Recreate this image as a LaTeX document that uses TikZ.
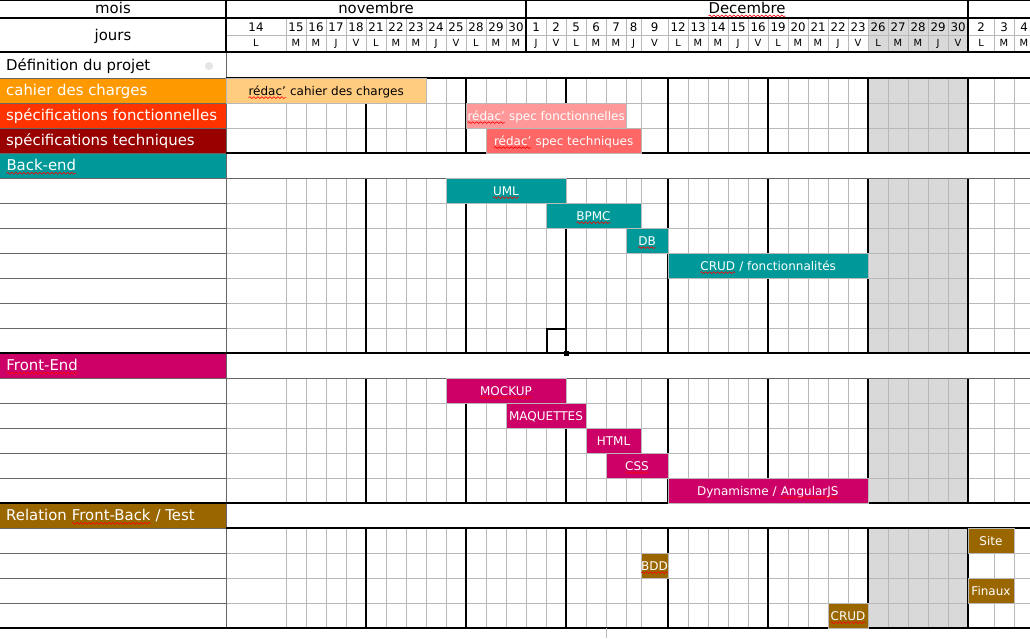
\documentclass[tikz,border=0pt]{standalone}
\usepackage{fontspec}
\setmainfont{DejaVu Sans}
\usetikzlibrary{decorations.pathmorphing}

\definecolor{cahierLbl}{HTML}{FF9900}
\definecolor{cahierBar}{HTML}{FFCC80}
\definecolor{fonctLbl}{HTML}{FF3300}
\definecolor{fonctBar}{HTML}{FF9999}
\definecolor{techLbl}{HTML}{990000}
\definecolor{techBar}{HTML}{FF6666}
\definecolor{backC}{HTML}{009999}
\definecolor{frontC}{HTML}{CC0066}
\definecolor{relC}{HTML}{996600}
\definecolor{weekend}{HTML}{D9D9D9}
\definecolor{gridC}{HTML}{B8B8B8}
\definecolor{rowC}{HTML}{666666}

\tikzset{
  gridline/.style={draw=gridC, line width=0.9pt},
  weekline/.style={draw=black, line width=1.1pt},
  rowline/.style={draw=rowC, line width=1pt},
  lbl/.style={anchor=base west, inner sep=0pt, text=white, font=\fontsize{14.9}{17}\selectfont},
  head/.style={anchor=base, inner sep=0pt, font=\fontsize{14.9}{17}\selectfont},
  num/.style={anchor=base, inner sep=0pt, font=\fontsize{11.8}{14}\selectfont},
  let/.style={anchor=base, inner sep=0pt, font=\fontsize{9.9}{11}\selectfont},
  bar/.style={draw=gridC, line width=0.9pt},
  btxt/.style={anchor=base, inner sep=0pt, text=white, font=\fontsize{12}{14}\selectfont},
  squig/.style={draw=red, line width=0.6pt, decorate,
    decoration={snake, amplitude=0.9pt, segment length=4pt}}
}

% mot souligne par le correcteur
\newcommand\sq[1]{\tikz[baseline=(w.base)]{\node[inner sep=0pt, outer sep=0pt,
  minimum width=0pt, minimum height=0pt, anchor=base, draw=none, fill=none] (w) {#1};
  \draw[squig] ([yshift=-2.6pt]w.base west) -- ([yshift=-2.6pt]w.base east);}}

\def\jourlist{226/286/14/L,286/306/15/M,306/326/16/M,326/346/17/J,346/366/18/V,%
366/386/21/L,386/406/22/M,406/426/23/M,426/446/24/J,446/466/25/V,%
466/486/28/L,486/506/29/M,506/526/30/M,526/546/1/J,546/566/2/V,%
566/586/5/L,586/606/6/M,606/626/7/M,626/641/8/J,641/668/9/V,%
668/688/12/L,688/708/13/M,708/728/14/M,728/748/15/J,748/768/16/V,%
768/788/19/L,788/808/20/M,808/828/21/M,828/848/22/J,848/868/23/V,%
868/888/26/L,888/908/27/M,908/928/28/M,928/948/29/J,948/968/30/V,%
968/994/2/L,994/1014/3/M,1014/1034/4/M}

\begin{document}
\begin{tikzpicture}[x=1pt, y=-1pt]
    \useasboundingbox (0,0) rectangle (1030,638);
    \fill[white] (0,0) rectangle (1030,638);

    % 周末 (gris)
    \fill[weekend] (868,18) rectangle (968,52);
    \foreach \ya/\yb in {78/153,178/353,378/503,528/628}
        \fill[weekend] (868,\ya) rectangle (968,\yb);

    % 网格竖线 + jours
    \foreach \xa/\xb/\d/\l [count=\i] in \jourlist {
        \foreach \ya/\yb in {18/52,78/153,178/353,378/503,528/628}
            \draw[gridline] (\xa,\ya) -- (\xa,\yb);
        \node[num] (num\i) at ({(\xa+\xb)/2},31.7) {\d};
        \node[let] (let\i) at ({(\xa+\xb)/2},46.7) {\l};
    }

    % 网格横线
    \foreach \y in {35,103,128,203,228,253,278,303,328,403,428,453,478,553,578,603}
        \draw[gridline] (226,\y) -- (1030,\y);

    % 每周分隔线
    \foreach \x in {366,466,566,668,768,868,968}
        \foreach \ya/\yb in {78/153,178/353,378/503,528/628}
            \draw[weekline] (\x,\ya) -- (\x,\yb);
    \draw[weekline] (226,0) -- (226,52) (526,0) -- (526,52) (968,0) -- (968,52);

    % 左侧栏
    \fill[cahierLbl] (0,78) rectangle (226,103);
    \fill[fonctLbl] (0,103) rectangle (226,128);
    \fill[techLbl] (0,128) rectangle (226,153);
    \fill[backC] (0,153) rectangle (226,178);
    \fill[frontC] (0,353) rectangle (226,378);
    \fill[relC] (0,503) rectangle (226,528);
    \foreach \y in {78,103,128,153,178,203,228,253,278,303,328,378,403,428,453,478,528,553,578,603}
        \draw[rowline] (0,\y) -- (226,\y);
    \draw[rowline] (226,52) -- (226,628);
    \fill[gray!20] (209,66) circle (4);

    % 横向黑线
    \draw[weekline] (0,0.5) -- (1030,0.5) (0,18) -- (1030,18) (0,52) -- (1030,52);
    \draw[weekline] (226,78) -- (1030,78) (226,153) -- (1030,153) (226,528) -- (1030,528);
    \draw[weekline] (0,353) -- (1030,353) (0,503) -- (1030,503) (0,628) -- (1030,628);
    \draw[rowline] (226,178) -- (1030,178) (226,378) -- (1030,378);
    \draw[gridline] (606.7,628) -- (606.7,638);

    % 表头
    \node[head] (mois) at (113,13.3) {mois};
    \node[head] (nov) at (376,13.3) {novembre};
    \node[head] (dec) at (747,13.3) {\sq{Decembre}};
    \node[head] (jours) at (113,40) {jours};

    % 任务名称
    \node[lbl, text=black] (defi) at (6,70.7) {Définition du projet};
    \node[lbl] (cahier) at (6,95.7) {cahier des charges};
    \node[lbl] (fonct) at (6,120.7) {spécifications fonctionnelles};
    \node[lbl] (tech) at (6,145.7) {spécifications techniques};
    \node[lbl] (back) at (6,170.7) {\sq{Back-end}};
    \node[lbl] (front) at (6,370.7) {\sq{Front-End}};
    \node[lbl] (rel) at (6,520.7) {Relation \sq{Front-Back} / Test};

    % 任务条 : specs
    \draw[bar, fill=cahierBar] (226,78) rectangle (426,103);
    \node[btxt, text=black] (tcahier) at (326,95) {\sq{rédac'} cahier des charges};
    \draw[bar, fill=fonctBar] (466,103) rectangle (626,128);
    \node[btxt] (tfonct) at (546,120) {\sq{rédac'} spec fonctionnelles};
    \draw[bar, fill=techBar] (486,128) rectangle (641,153);
    \node[btxt] (ttech) at (563.5,145) {\sq{rédac'} spec techniques};

    % 任务条 : back-end
    \draw[bar, fill=backC] (446,178) rectangle (566,203);
    \node[btxt] (uml) at (506,195) {\sq{UML}};
    \draw[bar, fill=backC] (546,203) rectangle (641,228);
    \node[btxt] (bpmc) at (593.5,220) {\sq{BPMC}};
    \draw[bar, fill=backC] (626,228) rectangle (668,253);
    \node[btxt] (db) at (647,245) {\sq{DB}};
    \draw[bar, fill=backC] (668,253) rectangle (868,278);
    \node[btxt] (crudb) at (768,270) {\sq{CRUD} / fonctionnalités};

    % cellule active
    \draw[line width=1.8pt] (547,329) rectangle (565.5,352.5);
    \fill (564,351) rectangle (568.5,355.5);

    % 任务条 : front-end
    \draw[bar, fill=frontC] (446,378) rectangle (566,403);
    \node[btxt] (mockup) at (506,395) {\sq{MOCKUP}};
    \draw[bar, fill=frontC] (506,403) rectangle (586,428);
    \node[btxt] (maq) at (546,420) {MAQUETTES};
    \draw[bar, fill=frontC] (586,428) rectangle (641,453);
    \node[btxt] (html) at (613.5,445) {HTML};
    \draw[bar, fill=frontC] (606,453) rectangle (668,478);
    \node[btxt] (css) at (637,470) {\sq{CSS}};
    \draw[bar, fill=frontC] (668,478) rectangle (868,503);
    \node[btxt] (dyn) at (768,495) {Dynamisme / \sq{AngularJS}};

    % 任务条 : relation / test
    \draw[bar, fill=relC] (968,528) rectangle (1014,553);
    \node[btxt] (site) at (991,545) {Site};
    \draw[bar, fill=relC] (641,553) rectangle (668,578);
    \node[btxt] (bdd) at (654.5,570) {\sq{BDD}};
    \draw[bar, fill=relC] (968,578) rectangle (1014,603);
    \node[btxt] (finaux) at (991,595) {Finaux};
    \draw[bar, fill=relC] (828,603) rectangle (868,628);
    \node[btxt] (crudt) at (848,620) {\sq{CRUD}};
\end{tikzpicture}
\end{document}
